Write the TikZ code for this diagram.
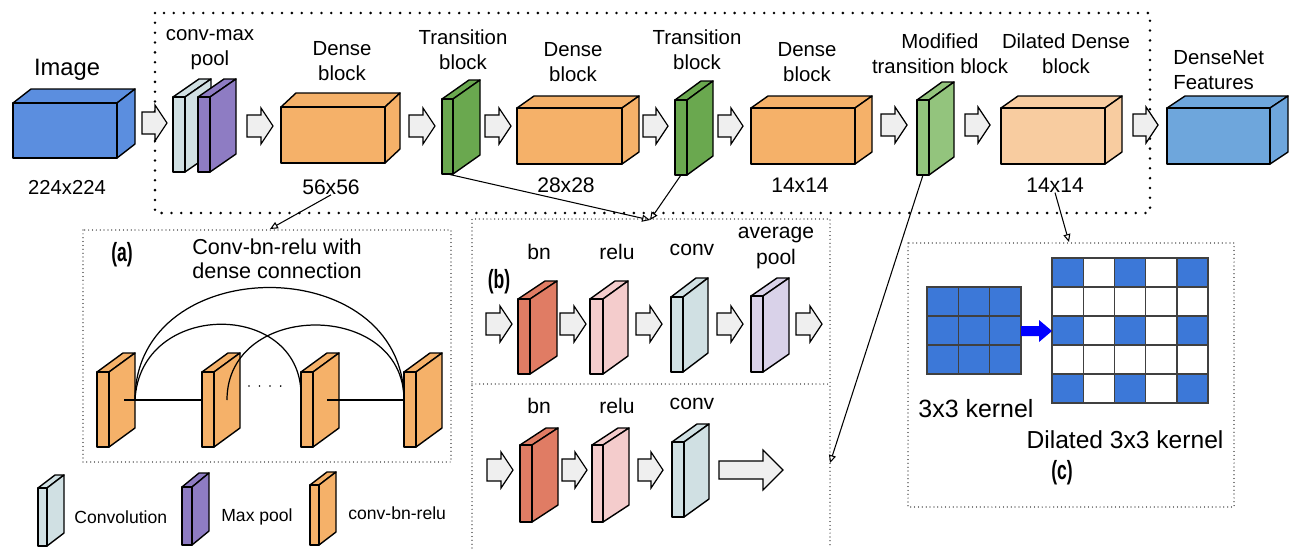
\documentclass[tikz,border=0pt]{standalone}
\usepackage{fontspec}
\setmainfont{Liberation Sans}
\usepackage{graphicx}
\usepackage{xcolor}
\usepackage{tikz}
\usetikzlibrary{
  arrows.meta,
  positioning,
  calc
}

\definecolor{imgblue}{HTML}{5B8EDF}
\definecolor{featblue}{HTML}{6EA6DC}
\definecolor{dorange}{HTML}{F5B169}
\definecolor{lorange}{HTML}{F8CCA0}
\definecolor{tgreen}{HTML}{6AA84F}
\definecolor{mgreen}{HTML}{93C47D}
\definecolor{convblue}{HTML}{D0E0E3}
\definecolor{poolpurple}{HTML}{8E7CC3}
\definecolor{bnred}{HTML}{E07C64}
\definecolor{relupink}{HTML}{F4CCCC}
\definecolor{avglav}{HTML}{D9D2E9}
\definecolor{kblue}{HTML}{3C78D8}
\definecolor{arrowgray}{HTML}{EFEFEF}

\tikzset{
  blk/.style={draw=black, line width=0.8pt, line join=round},
  flow/.style={draw=black, fill=arrowgray, line width=0.7pt},
  conn/.style={draw=black, line width=0.6pt, -{Triangle[open,length=4.5pt,width=4pt]}},
  link/.style={draw=black, line width=0.7pt},
  bigbox/.style={line width=1.6pt, line cap=round, dash pattern=on 0pt off 5.6pt},
  panelbox/.style={line width=0.7pt, line cap=round, dash pattern=on 0pt off 2.2pt},
  lbl/.style={font=\fontsize{11.6}{14.2}\selectfont, align=center, inner sep=0pt},
  sub/.style={font=\fontsize{12}{14.5}\selectfont, align=center, inner sep=0pt},
  dim/.style={font=\fontsize{12}{14}\selectfont, inner sep=0pt},
  legtxt/.style={font=\fontsize{10}{12}\selectfont, inner sep=0pt, anchor=west},
  tag/.style={inner sep=0pt},
  cell/.style={draw=black!75, line width=0.8pt}
}

% cuboid: name, x, y (front top-left), w, h, dx, dy, colour
\newcommand{\cuboid}[8]{%
  \filldraw[blk,fill=#8] (#2,#3) -- ++(#6,#7) -- ++(#4,0) -- ({#2+#4},#3) -- cycle;
  \filldraw[blk,fill=#8] ({#2+#4},#3) -- ++(#6,#7) -- ++(0,#5) -- ({#2+#4},{#3+#5}) -- cycle;
  \filldraw[blk,fill=#8] (#2,#3) rectangle ++(#4,#5);
  \coordinate (#1) at ({#2+#4/2},{#3+#5});
}
% hollow flow arrow: x1, x2, y centre
\newcommand{\flowarrow}[3]{%
  \filldraw[flow] (#1,{#3-11}) -- ({#2-12},{#3-11}) -- ({#2-12},{#3-18}) -- (#2,#3)
    -- ({#2-12},{#3+18}) -- ({#2-12},{#3+11}) -- (#1,{#3+11}) -- cycle;
}
\newcommand{\paneltag}[1]{\scalebox{0.8}[1.2]{\fontsize{12.5}{14}\selectfont\bfseries(#1)}}

\begin{document}
\begin{tikzpicture}[x=0.02cm, y=-0.02cm]
  \useasboundingbox (0,0) rectangle (1297,548);

  % outer dotted frame
  \draw[bigbox] (155,13) rectangle (1150,213);

  % main pipeline
  \cuboid{image}{13}{103}{104}{55}{18}{-14}{imgblue}
  \flowarrow{142}{167}{123}
  \cuboid{conv0}{173}{97}{12}{75}{26}{-18}{convblue}
  \cuboid{pool0}{198}{97}{12}{75}{26}{-18}{poolpurple}
  \flowarrow{247}{273}{126}
  \cuboid{dense1}{281}{107}{104}{56}{15}{-14}{dorange}
  \flowarrow{409}{435}{126}
  \cuboid{trans1}{442}{99}{11}{75}{27}{-19}{tgreen}
  \flowarrow{485}{511}{126}
  \cuboid{dense2}{517}{108}{105}{56}{17}{-12}{dorange}
  \flowarrow{643}{668}{126}
  \cuboid{trans2}{675}{100}{12}{75}{26}{-19}{tgreen}
  \flowarrow{718}{743}{126}
  \cuboid{dense3}{751}{108}{104}{56}{17}{-12}{dorange}
  \flowarrow{881}{907}{125}
  \cuboid{modtrans}{917}{100}{12}{75}{25}{-18}{mgreen}
  \flowarrow{965}{990}{125}
  \cuboid{dilated}{1001}{108}{104}{56}{17}{-12}{lorange}
  \flowarrow{1133}{1158}{125}
  \cuboid{feat}{1167}{108}{103}{56}{18}{-12}{featblue}

  % labels of the pipeline
  \node[lbl, font=\fontsize{13.5}{15}\selectfont] (lblImage) at (67,70) {Image};
  \node[dim, font=\fontsize{11.5}{13}\selectfont] (dimImage) at (67,187) {224x224};
  \node[lbl] (lblConvMax) at (210,50) {conv-max\\pool};
  \node[lbl] (lblDense1) at (342,61) {Dense\\block};
  \node[dim] (dimDense1) at (331,187) {56x56};
  \node[lbl] (lblTrans1) at (463,50) {Transition\\block};
  \node[lbl] (lblDense2) at (573,62) {Dense\\block};
  \node[dim] (dimDense2) at (566,185) {28x28};
  \node[lbl] (lblTrans2) at (697,50) {Transition\\block};
  \node[lbl] (lblDense3) at (807,62) {Dense\\block};
  \node[dim] (dimDense3) at (800,185) {14x14};
  \node[lbl] (lblModTrans) at (940,54) {Modified\\transition block};
  \node[lbl] (lblDilated) at (1066,54) {Dilated Dense\\block};
  \node[dim] (dimDilated) at (1055,185) {14x14};
  \node[lbl, align=left, anchor=west] (lblFeat) at (1173,70) {DenseNet\\Features};

  % panel frames
  \draw[panelbox] (83,230) rectangle (451,462);
  \draw[panelbox] (472,548) -- (472,219) -- (830,219) -- (830,548);
  \draw[panelbox] (472,384) -- (830,384);
  \draw[panelbox] (908,243) rectangle (1234,507);

  % (a) dense connections
  \node[tag] (tagA) at (122,255) {\paneltag{a}};
  \node[sub, font=\fontsize{12.3}{13.6}\selectfont] (lblDenseConn) at (277,259) {Conv-bn-relu with\\dense connection};
  \foreach \n/\x in {1/97, 2/202, 3/301, 4/404}{
    \cuboid{cbr\n}{\x}{372}{12}{75}{26}{-19}{dorange}
  }
  \coordinate (p1r) at (135,400);
  \coordinate (p1m) at (124,400);
  \coordinate (p2l) at (202,400);
  \coordinate (p2m) at (227,400);
  \coordinate (p3l) at (301,394);
  \coordinate (p3m) at (327,400);
  \coordinate (p4l) at (404,400);
  \draw[link] (p1m) -- (p2l);
  \draw[link] (p3m) -- (p4l);
  \draw[link] (p1r) .. controls (135,250) and (404,250) .. (p4l);
  \draw[link] (p1r) .. controls (140,300) and (300,300) .. (p3l);
  \draw[link] (p2m) .. controls (227,300) and (404,300) .. (p4l);
  \draw[line width=1pt, line cap=round, dash pattern=on 0pt off 6pt] (249,386) -- (287,386);

  % (b) transition blocks
  \node[tag] (tagB) at (499,282) {\paneltag{b}};
  \flowarrow{486}{512}{324}
  \cuboid{bnA}{518}{299}{12}{75}{27}{-18}{bnred}
  \flowarrow{560}{586}{324}
  \cuboid{reluA}{590}{299}{13}{75}{25}{-18}{relupink}
  \flowarrow{636}{662}{324}
  \cuboid{convA}{671}{297}{12}{75}{25}{-19}{convblue}
  \flowarrow{717}{743}{324}
  \cuboid{avgA}{751}{296}{12}{76}{26}{-18}{avglav}
  \flowarrow{796}{822}{324}
  \node[sub] (lblBnA) at (539,252) {bn};
  \node[sub] (lblReluA) at (617,252) {relu};
  \node[sub] (lblConvA) at (692,250) {conv};
  \node[sub] (lblAvgA) at (776,248) {average\\pool};

  \flowarrow{487}{513}{470}
  \cuboid{bnB}{520}{445}{12}{77}{26}{-17}{bnred}
  \flowarrow{562}{587}{470}
  \cuboid{reluB}{592}{445}{11}{77}{26}{-17}{relupink}
  \flowarrow{638}{663}{470}
  \cuboid{convB}{672}{442}{12}{75}{25}{-18}{convblue}
  \filldraw[flow] (719,461) -- (763,461) -- (763,450) -- (783,470) -- (763,490) -- (763,479) -- (719,479) -- cycle;
  \node[sub] (lblBnB) at (539,406) {bn};
  \node[sub] (lblReluB) at (617,406) {relu};
  \node[sub] (lblConvB) at (692,404) {conv};

  % (c) dilated kernel
  \foreach \r in {0,1,2}{
    \foreach \c in {0,1,2}{
      \filldraw[cell, fill=kblue] ({927+31.33*\c},{287+29*\r}) rectangle ++(31.33,29);
    }
  }
  \foreach \r in {0,...,4}{
    \foreach \c in {0,...,4}{
      \filldraw[cell, fill=white] ({1052+31.2*\c},{258+29*\r}) rectangle ++(31.2,29);
    }
  }
  \foreach \r in {0,2,4}{
    \foreach \c in {0,2,4}{
      \filldraw[cell, fill=kblue] ({1052+31.2*\c},{258+29*\r}) rectangle ++(31.2,29);
    }
  }
  \fill[blue] (1021,326) -- (1039,326) -- (1039,320) -- (1052,331) -- (1039,342) -- (1039,336) -- (1021,336) -- cycle;
  \node[dim, font=\fontsize{14.2}{16}\selectfont] (lblKernel) at (976,409) {3x3 kernel};
  \node[dim, font=\fontsize{14}{16}\selectfont] (lblDilKernel) at (1125,440) {Dilated 3x3 kernel};
  \node[tag] (tagC) at (1062,473) {\paneltag{c}};

  % connectors to the panels
  \coordinate (aIn) at (270,229);
  \coordinate (bIn) at (650,220);
  \coordinate (bSide) at (830,463);
  \coordinate (cIn) at (1069,242);
  \draw[conn] (dimDense1.south) -- (aIn);
  \draw[conn] (trans1) -- (bIn);
  \draw[conn] (trans2) -- (bIn);
  \draw[conn] (modtrans) -- (bSide);
  \draw[conn] (dimDilated.south) -- (cIn);

  % legend
  \cuboid{legConv}{38}{488}{9}{58}{17}{-13}{convblue}
  \node[legtxt] (legConvTxt) at (74,517) {Convolution};
  \cuboid{legPool}{182}{487}{10}{58}{17}{-14}{poolpurple}
  \node[legtxt] (legPoolTxt) at (221,517) {Max pool};
  \cuboid{legCbr}{310}{485}{9}{60}{17}{-13}{dorange}
  \node[legtxt] (legCbrTxt) at (348,513) {conv-bn-relu};
\end{tikzpicture}
\end{document}
